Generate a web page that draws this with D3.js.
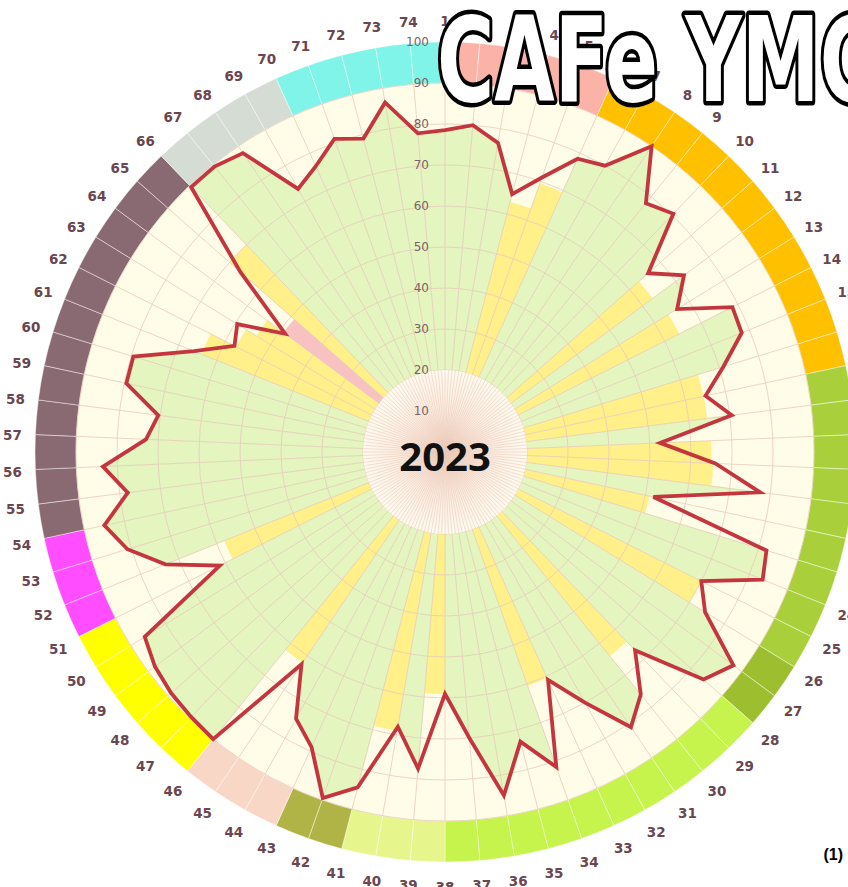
<!DOCTYPE html>
<html>
<head>
<meta charset="utf-8">
<script src="https://cdn.jsdelivr.net/npm/d3@7"></script>
<style>
  html, body { margin: 0; padding: 0; background: #fff; }
  svg { display: block; }
</style>
</head>
<body>
<div id="chart"></div>
<script>
// categories 1..74 round the circle
const categories = d3.range(1, 75);

// red line: score per category
const scoreValues = [
  78.5, 80, 76.5, 65, 71, 78.5, 80, 90, 78, 80.5,
  66, 72.5, 66.5, 78.5, 78, 71, 65, 70.5, 52.5, 66,
  77.5, 52, 82, 83.5, 70, 74.5, 87.5, 84, 67, 76,
  81, 70, 61, 81.5, 73, 85, 70, 59, 77.5, 68,
  84.5, 89.5, 79, 74.5, 62.5, 90, 89.5, 89, 88, 86,
  61.5, 73.5, 81, 85, 78, 83.5, 73, 70.5, 79.5, 79.5,
  66, 57.5, 59.5, 48.5, 66.5, 89.5, 89.5, 88, 73.5, 76.5,
  81, 79, 86.5, 78
];

// highlighted wedges (yellow / pink)
const yellowCats   = [4, 5, 11, 13, 16, 17, 19, 20, 22, 25, 29, 33, 38, 40, 45, 51, 61, 62, 63, 65];
const yellowValues = [63, 69.5, 63, 64, 64.5, 64.5, 65, 65.5, 51, 70, 64, 60.5, 59, 69, 62, 58, 64, 57, 54, 70];
const pinkCats   = [64];
const pinkValues = [49];

// outer ring groups: first category of each group and its colour
const groupStarts = [1, 6, 17, 26, 28, 38, 41, 43, 46, 51, 54, 66, 70];
const groupColors = ['#fbb3a8', '#ffc000', '#a9d03b', '#9dbf2f', '#c6f34c', '#e6f68c',
                     '#b0b446', '#f9d7c7', '#ffff00', '#ff4dff', '#8a6a72', '#d5dcd3', '#80f4e8'];

const radialTicks = [10, 20, 30, 40, 50, 60, 70, 80, 90, 100];

const width = 848, height = 887;
const cx = 445, cy = 452;

const svg = d3.select('#chart').append('svg')
  .attr('width', width)
  .attr('height', height);

svg.append('rect').attr('width', width).attr('height', height).attr('fill', '#fff');

const defs = svg.append('defs');
const grad = defs.append('radialGradient').attr('id', 'hub');
grad.append('stop').attr('offset', '0%').attr('stop-color', '#f4d6c6');
grad.append('stop').attr('offset', '50%').attr('stop-color', '#fbece0');
grad.append('stop').attr('offset', '100%').attr('stop-color', '#fffaf0');

const g = svg.append('g').attr('transform', `translate(${cx},${cy})`);

// scales
const angle = d3.scaleLinear().domain([1, 75]).range([0, 2 * Math.PI]);
const r = d3.scaleLinear().domain([0, 100]).range([0, 410]);

const scoreOf = c => scoreValues[(c - 1) % 74];
const groupColor = c => {
  const i = d3.bisectRight(groupStarts, c) - 1;
  return groupColors[i];
};

// outer ring
const ringArc = d3.arc()
  .innerRadius(r(90))
  .outerRadius(r(100))
  .startAngle(c => angle(c))
  .endAngle(c => angle(c + 1));

g.append('g').selectAll('path')
  .data(categories)
  .enter().append('path')
  .attr('d', ringArc)
  .attr('fill', groupColor)
  .attr('stroke', 'rgba(255,255,255,0.55)')
  .attr('stroke-width', 0.8);

// plot background
g.append('circle').attr('r', r(90)).attr('fill', '#fffde8');

// green area under the score line (wedges that are not highlighted)
const highlighted = new Set(yellowCats.concat(pinkCats));
const radial = d3.lineRadial()
  .angle(d => angle(d.c))
  .radius(d => r(d.v))
  .curve(d3.curveLinearClosed);

g.append('g').selectAll('path')
  .data(categories.filter(c => !highlighted.has(c)))
  .enter().append('path')
  .attr('d', c => radial([{ c: c, v: 0 }, { c: c, v: scoreOf(c) }, { c: c + 1, v: scoreOf(c + 1) }]))
  .attr('fill', '#e4f5c0')
  .attr('stroke', '#e4f5c0')
  .attr('stroke-width', 0.5);

// yellow and pink wedges
const barArc = d3.arc()
  .innerRadius(0)
  .outerRadius(d => r(d.v))
  .startAngle(d => angle(d.c))
  .endAngle(d => angle(d.c + 1));

const bars = yellowCats.map((c, i) => ({ c: c, v: yellowValues[i], color: '#fff08a' }))
  .concat(pinkCats.map((c, i) => ({ c: c, v: pinkValues[i], color: '#f8c2c2' })));

g.append('g').selectAll('path')
  .data(bars)
  .enter().append('path')
  .attr('d', barArc)
  .attr('fill', d => d.color);

// grid
const grid = g.append('g')
  .attr('stroke', '#e8c9bb')
  .attr('stroke-width', 0.9)
  .attr('fill', 'none')
  .attr('opacity', 0.85);

grid.selectAll('circle')
  .data(radialTicks.filter(t => t >= 20 && t <= 90))
  .enter().append('circle')
  .attr('r', d => r(d));

grid.selectAll('line')
  .data(categories)
  .enter().append('line')
  .attr('x1', c => r(20) * Math.sin(angle(c)))
  .attr('y1', c => -r(20) * Math.cos(angle(c)))
  .attr('x2', c => r(90) * Math.sin(angle(c)))
  .attr('y2', c => -r(90) * Math.cos(angle(c)));

// hub
g.append('circle').attr('r', r(20)).attr('fill', 'url(#hub)');
g.append('g').selectAll('line')
  .data(d3.range(0, 148))
  .enter().append('line')
  .attr('x1', 0).attr('y1', 0)
  .attr('x2', i => r(20) * Math.sin(i * Math.PI / 74))
  .attr('y2', i => -r(20) * Math.cos(i * Math.PI / 74))
  .attr('stroke', '#ebcbbb')
  .attr('stroke-width', 0.6);

// score line
g.append('path')
  .datum(categories.map(c => ({ c: c, v: scoreOf(c) })))
  .attr('d', radial)
  .attr('fill', 'none')
  .attr('stroke', '#c4363d')
  .attr('stroke-width', 3.8)
  .attr('stroke-linejoin', 'miter');

// radial tick labels
g.append('g').selectAll('text')
  .data(radialTicks)
  .enter().append('text')
  .attr('x', -16)
  .attr('y', d => -r(d))
  .attr('dy', '0.35em')
  .attr('text-anchor', 'end')
  .style('font-family', 'DejaVu Sans, sans-serif')
  .style('font-size', '12px')
  .style('fill', '#7c6267')
  .text(d => d);

// centre year
g.append('text')
  .attr('x', 0)
  .attr('y', 5)
  .attr('dy', '0.35em')
  .attr('text-anchor', 'middle')
  .style('font-family', 'Open Sans, sans-serif')
  .style('font-weight', 700)
  .style('font-size', '40px')
  .style('fill', '#111')
  .text('2023');

// category labels
g.append('g').selectAll('text')
  .data(categories)
  .enter().append('text')
  .attr('x', c => 433 * Math.sin(angle(c)))
  .attr('y', c => 2 - 433 * Math.cos(angle(c)))
  .attr('dy', '0.36em')
  .attr('text-anchor', 'middle')
  .style('font-family', 'DejaVu Sans, sans-serif')
  .style('font-weight', 700)
  .style('font-size', '13.5px')
  .style('fill', '#6a4650')
  .text(c => c);

// title
svg.append('text')
  .attr('x', 437)
  .attr('y', 101)
  .attr('textLength', 440)
  .attr('lengthAdjust', 'spacingAndGlyphs')
  .style('font-family', "'DejaVu Sans', sans-serif")
  .style('font-weight', 700)
  .style('font-size', '118px')
  .style('fill', '#fff')
  .style('stroke', '#000')
  .style('stroke-width', 9)
  .style('paint-order', 'stroke')
  .style('stroke-linejoin', 'round')
  .text('CAFe YMC');

svg.append('text')
  .attr('x', 843)
  .attr('y', 860)
  .attr('text-anchor', 'end')
  .style('font-family', 'Liberation Sans, Arial, sans-serif')
  .style('font-weight', 700)
  .style('font-size', '16px')
  .style('fill', '#000')
  .text('(1)');
</script>
</body>
</html>
